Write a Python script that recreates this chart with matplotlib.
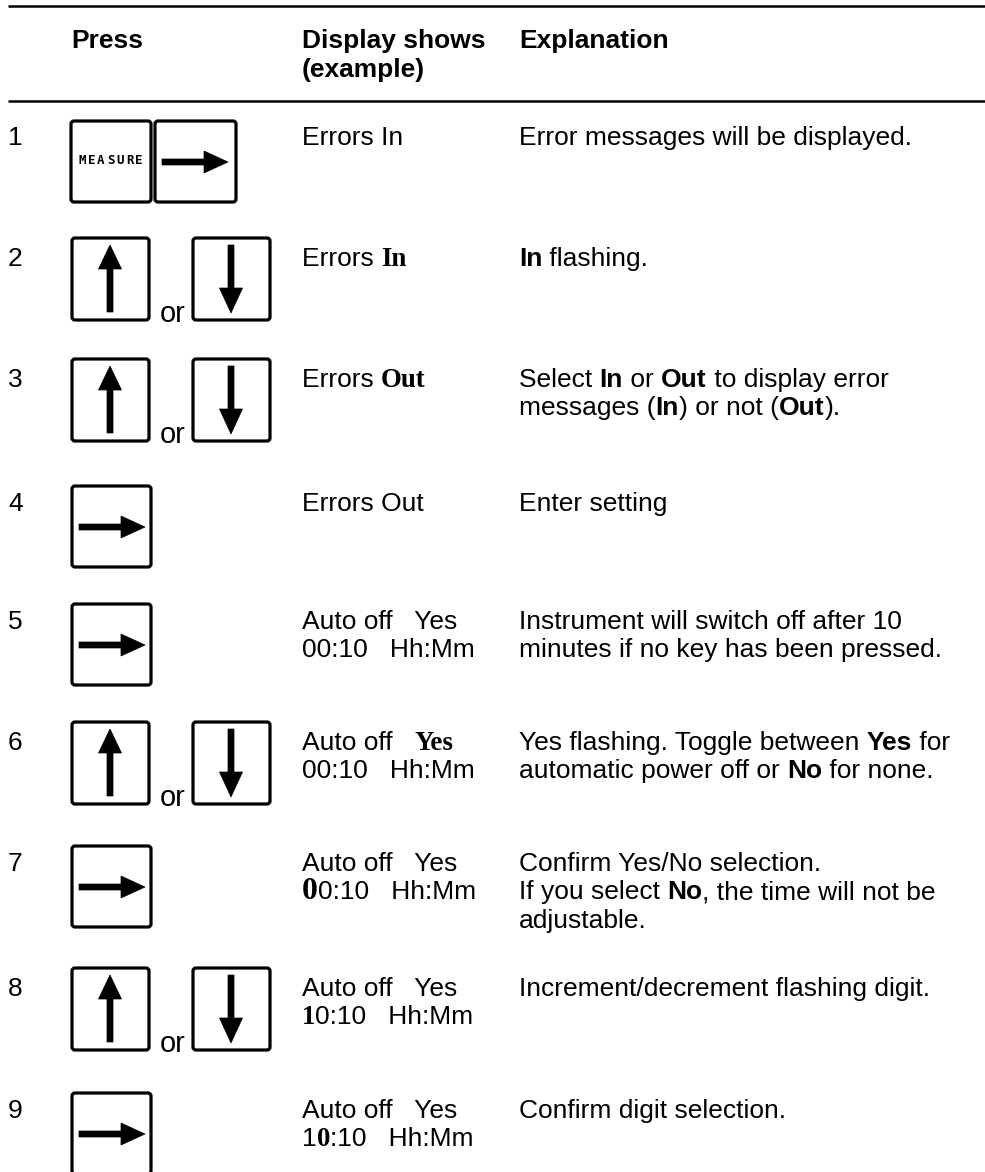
import matplotlib
matplotlib.use("Agg")
import matplotlib.pyplot as plt
from matplotlib.patches import FancyBboxPatch, Polygon

# ---------------- data ----------------
step_numbers = ["1", "2", "3", "4", "5", "6", "7", "8", "9"]
press_keys = ["measure_right", "up_or_down", "up_or_down", "right", "right",
              "up_or_down", "right", "up_or_down", "right"]
header_press = "Press"
header_display = ["Display shows", "(example)"]
header_explanation = "Explanation"
or_label = "or"
measure_label = "MEASURE"

# runs: (text, style) ; r = regular sans, b = bold sans, s = bold serif, S = big bold serif
display_shows = [
    [[("Errors In", "r")]],
    [[("Errors ", "r"), ("In", "s")]],
    [[("Errors ", "r"), ("Out", "s")]],
    [[("Errors Out", "r")]],
    [[("Auto off   Yes", "r")], [("00:10   Hh:Mm", "r")]],
    [[("Auto off   ", "r"), ("Yes", "s")], [("00:10   Hh:Mm", "r")]],
    [[("Auto off   Yes", "r")], [("0", "S"), ("0:10   Hh:Mm", "r")]],
    [[("Auto off   Yes", "r")], [("1", "s"), ("0:10   Hh:Mm", "r")]],
    [[("Auto off   Yes", "r")], [("1", "r"), ("0", "s"), (":10   Hh:Mm", "r")]],
]

explanations = [
    [[("Error messages will be displayed.", "r")]],
    [[("In", "b"), (" flashing.", "r")]],
    [[("Select ", "r"), ("In", "b"), (" or ", "r"), ("Out", "b"), (" to display error", "r")],
     [("messages (", "r"), ("In", "b"), (") or not (", "r"), ("Out", "b"), (").", "r")]],
    [[("Enter setting", "r")]],
    [[("Instrument will switch off after 10", "r")],
     [("minutes if no key has been pressed.", "r")]],
    [[("Yes flashing. Toggle between ", "r"), ("Yes", "b"), (" for", "r")],
     [("automatic power off or ", "r"), ("No", "b"), (" for none.", "r")]],
    [[("Confirm Yes/No selection.", "r")],
     [("If you select ", "r"), ("No", "b"), (", the time will not be", "r")],
     [("adjustable.", "r")]],
    [[("Increment/decrement flashing digit.", "r")]],
    [[("Confirm digit selection.", "r")]],
]

# ---------------- layout ----------------
W, H = 985, 1172
FS = 19.0
EM = FS * 100 / 72.0
CAP = 0.716 * EM
LINE = 28.5
X_NUM, X_PRESS, X_DISP, X_EXPL = 8, 71, 302, 519
row_tops = [126, 247, 368, 492, 610, 731, 852, 977, 1099]

SANS = "Liberation Sans"
SERIF = "Liberation Serif"
styles = {
    "r": dict(family=SANS, size=FS, weight="normal"),
    "b": dict(family=SANS, size=FS, weight="bold"),
    "s": dict(family=SERIF, size=FS * 1.02, weight="bold"),
    "S": dict(family=SERIF, size=FS * 1.2, weight="bold"),
}

fig = plt.figure(figsize=(W / 100, H / 100), dpi=100)
ax = fig.add_axes([0, 0, 1, 1])
ax.set_xlim(0, W)
ax.set_ylim(H, 0)
ax.axis("off")
renderer = fig.canvas.get_renderer()


def run_width(s, props):
    t1 = ax.text(0, 0, "|" + s + "|", **props)
    w1 = t1.get_window_extent(renderer).width
    t1.remove()
    t2 = ax.text(0, 0, "||", **props)
    w2 = t2.get_window_extent(renderer).width
    t2.remove()
    return w1 - w2


def draw_runs(x, y, runs):
    for text, st in runs:
        props = dict(fontfamily=styles[st]["family"], fontsize=styles[st]["size"],
                     fontweight=styles[st]["weight"], color="black")
        ax.text(x, y, text, va="baseline", ha="left", **props)
        x += run_width(text, props)


def draw_lines(x, y0, lines):
    for i, runs in enumerate(lines):
        draw_runs(x, y0 + i * LINE, runs)


# rules
ax.plot([8, W], [6, 6], color="black", lw=1.8, solid_capstyle="butt")
ax.plot([8, W], [100.5, 100.5], color="black", lw=1.8, solid_capstyle="butt")

# header
hdr = dict(fontfamily=SANS, fontsize=FS, fontweight="bold", va="baseline", ha="left")
ax.text(X_PRESS, 48, header_press, **hdr)
for i, s in enumerate(header_display):
    ax.text(X_DISP, 48 + i * 29, s, **hdr)
ax.text(X_EXPL, 48, header_explanation, **hdr)


def key_box(L, T, w, h):
    ax.add_patch(FancyBboxPatch((L, T), w, h, boxstyle="round,pad=0,rounding_size=3",
                                lw=2.3, ec="black", fc="white", zorder=2))


def right_arrow(L, T):
    cy = T + 41
    pts = [(L + 7, cy - 3), (L + 49, cy - 3), (L + 49, cy - 11), (L + 73, cy),
           (L + 49, cy + 11), (L + 49, cy + 3), (L + 7, cy + 3)]
    ax.add_patch(Polygon(pts, closed=True, fc="black", ec="black", lw=0.5, zorder=3))


def up_arrow(L, T):
    cx = L + 38
    pts = [(cx - 3, T + 74), (cx - 3, T + 31), (cx - 11.5, T + 31), (cx, T + 7),
           (cx + 11.5, T + 31), (cx + 3, T + 31), (cx + 3, T + 74)]
    ax.add_patch(Polygon(pts, closed=True, fc="black", ec="black", lw=0.5, zorder=3))


def down_arrow(L, T):
    cx = L + 38
    pts = [(cx - 3, T + 7), (cx - 3, T + 50), (cx - 11.5, T + 50), (cx, T + 75),
           (cx + 11.5, T + 50), (cx + 3, T + 50), (cx + 3, T + 7)]
    ax.add_patch(Polygon(pts, closed=True, fc="black", ec="black", lw=0.5, zorder=3))


for num, key, disp, expl, top in zip(step_numbers, press_keys, display_shows,
                                     explanations, row_tops):
    base = top + CAP
    ax.text(X_NUM, base, num, fontfamily=SANS, fontsize=FS, va="baseline", ha="left")
    if key == "measure_right":
        T = top - 5
        key_box(71, T, 80, 81)
        pitch = 67 / len(measure_label)
        for i, ch in enumerate(measure_label):
            ax.text(77 + pitch * (i + 0.5), T + 40, ch, fontfamily="DejaVu Sans Mono",
                    fontsize=9, fontweight="bold", ha="center", va="center", zorder=4)
        key_box(155, T, 81, 81)
        right_arrow(155, T)
    elif key == "up_or_down":
        T = top - 9
        key_box(72, T, 77, 82)
        up_arrow(72, T)
        key_box(193, T, 77, 82)
        down_arrow(193, T)
        ax.text(160, T + 84, or_label, fontfamily=SANS, fontsize=FS * 1.1,
                va="baseline", ha="left")
    else:
        T = top - 6
        key_box(72, T, 79, 81)
        right_arrow(72, T)
    draw_lines(X_DISP, base, disp)
    draw_lines(X_EXPL, base, expl)

fig.savefig("out.png", dpi=100, facecolor="white")
